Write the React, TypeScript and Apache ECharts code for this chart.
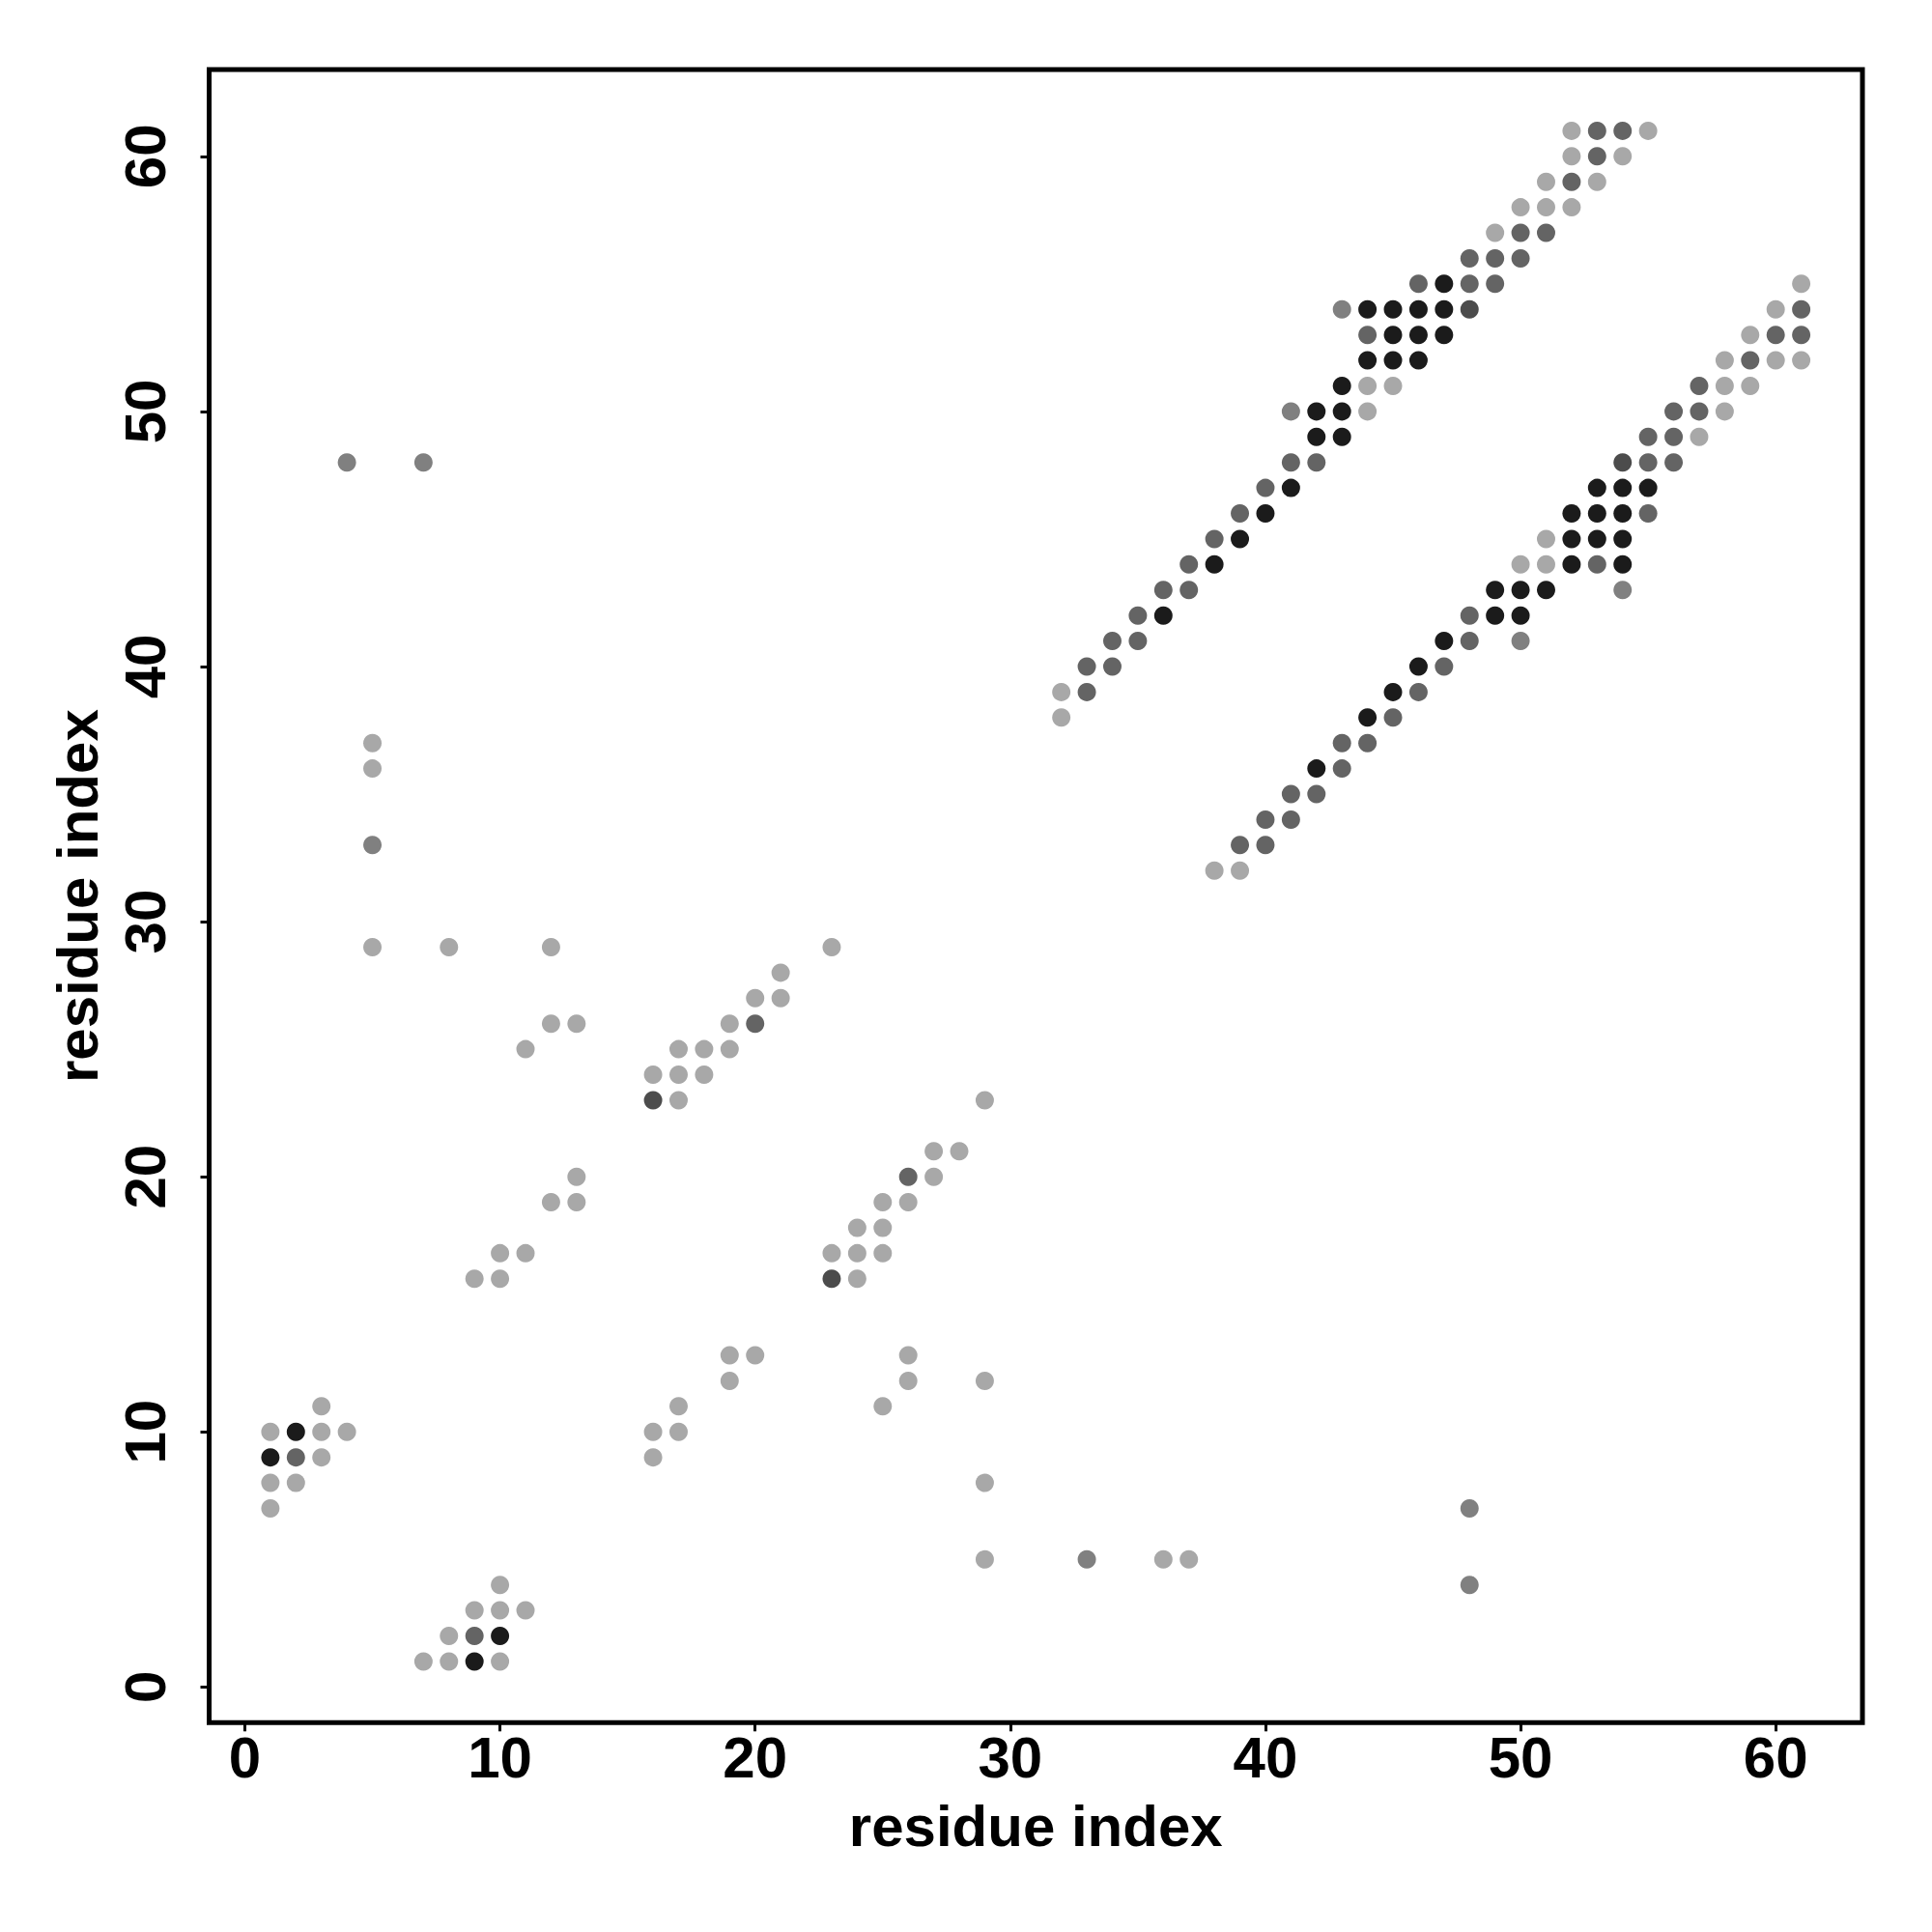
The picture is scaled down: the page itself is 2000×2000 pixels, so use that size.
import React, { useEffect, useRef } from "react";
import * as echarts from "echarts";

// contact map: [residue i, residue j], grouped by contact shade
const lightContacts: number[][] = [
  [5, 37], [5, 36], [5, 29], [8, 29], [12, 29], [11, 25], [12, 26], [13, 26],
  [16, 24], [17, 25], [17, 24], [17, 23], [18, 25], [18, 24], [19, 26], [19, 25], [20, 27], [21, 28], [21, 27], [23, 29],
  [23, 17], [24, 18], [24, 17], [24, 16], [25, 19], [25, 18], [25, 17], [26, 19], [27, 21], [27, 20], [28, 21], [29, 23],
  [9, 16], [10, 17], [10, 16], [11, 17], [12, 19], [13, 20], [13, 19],
  [16, 10], [16, 9], [17, 11], [17, 10], [19, 13], [19, 12], [20, 13],
  [25, 11], [26, 13], [26, 12], [29, 12], [29, 8], [29, 5], [36, 5], [37, 5],
  [1, 10], [3, 11], [3, 10], [4, 10], [3, 9], [1, 8], [2, 8], [1, 7],
  [10, 4], [9, 3], [10, 3], [11, 3], [8, 2], [7, 1], [8, 1], [10, 1],
  [32, 39], [32, 38], [44, 50], [44, 51], [45, 51], [49, 57], [50, 58], [51, 58], [52, 58], [51, 59], [53, 59], [52, 60], [54, 60], [52, 61], [55, 61],
  [38, 32], [39, 32], [50, 44], [51, 44], [51, 45], [57, 49], [58, 50], [58, 51], [59, 51], [58, 52], [60, 52], [61, 52], [59, 53], [60, 54], [61, 55],
];

const mediumContacts: number[][] = [
  [4, 48], [7, 48], [5, 33], [33, 5], [48, 7], [48, 4], [43, 54], [41, 50], [54, 43], [50, 41],
];

const darkContacts: number[][] = [
  [20, 26], [26, 20], [2, 9], [9, 2],
  [33, 39], [33, 40], [34, 40], [34, 41], [35, 41], [35, 42], [36, 43], [37, 43], [37, 44], [38, 45], [39, 46], [40, 47], [41, 48], [42, 48],
  [44, 53], [46, 55], [48, 55], [49, 55], [48, 56], [49, 56], [50, 56], [50, 57], [51, 57], [52, 59], [53, 60], [53, 61], [54, 61],
  [39, 33], [40, 33], [40, 34], [41, 34], [41, 35], [42, 35], [43, 36], [43, 37], [44, 37], [45, 38], [46, 39], [47, 40], [48, 41], [48, 42],
  [53, 44], [55, 46], [55, 48], [56, 48], [55, 49], [56, 49], [56, 50], [57, 50], [57, 51], [59, 52], [60, 53], [61, 53], [61, 54],
];

const darkerContacts: number[][] = [
  [16, 23], [23, 16], [48, 54], [54, 48],
];

const blackContacts: number[][] = [
  [2, 10], [1, 9], [10, 2], [9, 1],
  [36, 42], [38, 44], [39, 45], [40, 46], [41, 47], [42, 49], [43, 49], [42, 50], [43, 50], [43, 51],
  [44, 52], [45, 52], [46, 52], [45, 53], [46, 53], [47, 53], [44, 54], [45, 54], [46, 54], [47, 54], [47, 55],
  [42, 36], [44, 38], [45, 39], [46, 40], [47, 41], [49, 42], [50, 42], [49, 43], [50, 43], [51, 43],
  [52, 44], [54, 44], [52, 45], [53, 45], [54, 45], [52, 46], [53, 46], [54, 46], [53, 47], [54, 47], [55, 47],
];

const tickValues: number[] = [0, 10, 20, 30, 40, 50, 60];
const axisTitle = "residue index";

const FONT = "'Liberation Sans', Arial, Helvetica, sans-serif";

export default function App() {
  const ref = useRef<HTMLDivElement>(null);

  useEffect(() => {
    if (!ref.current) return;
    const chart = echarts.init(ref.current, undefined, { renderer: "svg" });

    const labelStyle = {
      fontFamily: FONT,
      fontWeight: "bold" as const,
      fontSize: 60,
      color: "#000",
    };

    const mkAxis = (isX: boolean) => ({
      type: "value" as const,
      min: -1.4,
      max: 63.4,
      name: axisTitle,
      nameLocation: "middle" as const,
      nameGap: isX ? 77 : 106,
      nameTextStyle: { ...labelStyle },
      axisLine: { show: false, onZero: false },
      splitLine: { show: false },
      axisTick: {
        show: true,
        length: 9,
        customValues: tickValues,
        lineStyle: { color: "#000", width: 3 },
      },
      axisLabel: {
        show: true,
        customValues: tickValues,
        margin: isX ? 6 : 36,
        rotate: isX ? 0 : 90,
        ...labelStyle,
      },
    });

    const mkSeries = (data: number[][], color: string) => ({
      type: "scatter" as const,
      data,
      symbol: "circle",
      symbolSize: 19,
      itemStyle: { color, opacity: 1 },
      silent: true,
    });

    chart.setOption({
      animation: false,
      backgroundColor: "#fff",
      grid: {
        left: 216.5,
        right: 72,
        top: 72,
        bottom: 216.7,
        show: true,
        borderColor: "#000",
        borderWidth: 5,
        backgroundColor: "transparent",
      },
      xAxis: mkAxis(true),
      yAxis: mkAxis(false),
      series: [
        mkSeries(lightContacts, "#a8a8a8"),
        mkSeries(mediumContacts, "#808080"),
        mkSeries(darkContacts, "#646464"),
        mkSeries(darkerContacts, "#4c4c4c"),
        mkSeries(blackContacts, "#1b1b1b"),
      ],
    });

    return () => chart.dispose();
  }, []);

  return (
    <div
      ref={ref}
      style={{ position: "fixed", left: 0, top: 0, width: 2000, height: 2000, background: "#fff" }}
    />
  );
}
